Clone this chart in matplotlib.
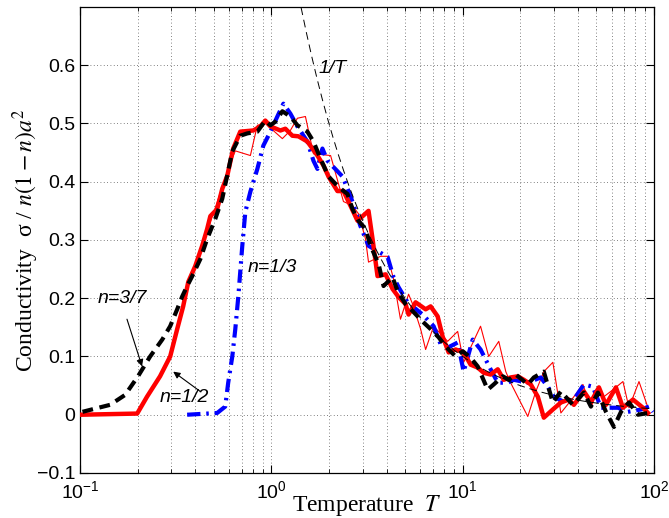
import numpy as np
import matplotlib.pyplot as plt
from matplotlib.ticker import LogLocator, NullFormatter

plt.rcParams['mathtext.fontset'] = 'custom'
plt.rcParams['mathtext.rm'] = 'Liberation Sans'
plt.rcParams['mathtext.it'] = 'Liberation Sans:italic'
plt.rcParams['font.family'] = ['Liberation Sans', 'DejaVu Sans']

# n = 1/2, thick red
T_half = [0.1, 0.199, 0.224, 0.262, 0.296, 0.322, 0.346, 0.368, 0.400, 0.435,
          0.462, 0.480, 0.521, 0.554, 0.588, 0.632, 0.688, 0.805, 0.876, 0.930,
          0.989, 1.115, 1.184, 1.288, 1.385, 1.543, 1.741, 1.872, 1.989, 2.215,
          2.382, 2.59, 2.82, 3.22, 3.379, 3.589, 3.953, 4.30, 4.624, 5.029,
          5.215, 5.674, 6.402, 6.80, 7.397, 7.859, 8.447, 9.192, 10.12, 11.0,
          11.98, 12.88, 14.0, 15.25, 16.39, 17.8, 19.41, 20.86, 22.7, 24.70,
          26.55, 29.60, 32.6, 35.89, 38.13, 43.01, 46.8, 51.52, 56.07, 63.24,
          68.82, 77.63, 87.59, 93.03]
s_half = [0, 0.002, 0.031, 0.066, 0.100, 0.147, 0.186, 0.228, 0.255, 0.290,
          0.319, 0.341, 0.353, 0.388, 0.410, 0.457, 0.486, 0.488, 0.495, 0.505,
          0.495, 0.488, 0.491, 0.479, 0.478, 0.469, 0.445, 0.428, 0.409, 0.384,
          0.384, 0.359, 0.333, 0.350, 0.302, 0.238, 0.241, 0.216, 0.202, 0.190,
          0.172, 0.193, 0.181, 0.186, 0.169, 0.134, 0.107, 0.112, 0.107, 0.086,
          0.081, 0.072, 0.069, 0.078, 0.060, 0.064, 0.066, 0.060, 0.052, 0.031,
          -0.005, 0.009, 0.021, 0.026, 0.017, 0.040, 0.022, 0.047, 0.017, 0.047,
          0.012, 0.026, 0.012, 0.003]

# n = 1/2, smaller system (thin red)
T_half2 = [0.1, 0.199, 0.224, 0.262, 0.296, 0.322, 0.346, 0.368, 0.400, 0.435,
           0.462, 0.497, 0.554, 0.595, 0.648, 0.777, 0.845, 0.930, 1.142, 1.257,
           1.368, 1.507, 1.660, 2.04, 2.382, 2.656, 2.854, 3.105, 3.220, 3.72,
           4.050, 4.352, 4.73, 5.215, 5.473, 6.03, 6.402, 7.050, 8.346, 9.415,
           10.12, 12.4, 13.68, 15.44, 16.80, 17.8, 21.89, 24.11, 26.55, 29.60,
           32.6, 38.13, 42.50, 46.8, 51.52, 54.73, 61.00, 68.82, 73.99, 83.46,
           93.03]
s_half2 = [0, 0.002, 0.029, 0.064, 0.098, 0.143, 0.188, 0.224, 0.253, 0.288,
           0.316, 0.345, 0.391, 0.422, 0.453, 0.445, 0.497, 0.500, 0.474, 0.488,
           0.509, 0.512, 0.448, 0.445, 0.366, 0.359, 0.345, 0.302, 0.262, 0.272,
           0.272, 0.233, 0.164, 0.207, 0.190, 0.147, 0.112, 0.152, 0.126, 0.143,
           0.090, 0.152, 0.100, 0.126, 0.074, 0.055, -0.003, 0.040, 0.074, 0.090,
           0.003, 0.031, 0.052, 0.012, 0.048, 0.031, 0.043, 0.057, 0.012, 0.057,
           0.012]

# n = 3/7, black dashed
T_37 = [0.103, 0.1436, 0.172, 0.201, 0.2325, 0.269, 0.296, 0.322, 0.342, 0.363,
        0.386, 0.425, 0.462, 0.509, 0.554, 0.625, 0.688, 0.749, 0.845, 0.930,
        0.989, 1.049, 1.142, 1.257, 1.368, 1.543, 1.660, 1.805, 1.989, 2.243,
        2.500, 2.656, 2.854, 3.105, 3.30, 3.633, 3.859, 4.300, 4.568, 5.029,
        5.473, 6.176, 6.80, 7.486, 8.147, 9.192, 10.0, 11.0, 11.98, 13.51,
        14.53, 16.20, 17.41, 18.95, 21.89, 23.54, 26.55, 29.60, 32.6, 37.66,
        43.01, 46.8, 50.91, 56.07, 61.73, 67.2, 73.99, 82.46, 93.03]
s_37 = [0.005, 0.017, 0.034, 0.066, 0.100, 0.129, 0.152, 0.181, 0.203, 0.221,
        0.238, 0.267, 0.302, 0.336, 0.371, 0.452, 0.479, 0.483, 0.486, 0.505,
        0.497, 0.503, 0.521, 0.512, 0.497, 0.486, 0.469, 0.440, 0.409, 0.391,
        0.379, 0.353, 0.333, 0.319, 0.290, 0.259, 0.221, 0.236, 0.212, 0.190,
        0.178, 0.160, 0.147, 0.133, 0.117, 0.100, 0.109, 0.098, 0.083, 0.043,
        0.052, 0.066, 0.060, 0.069, 0.052, 0.064, 0.074, 0.021, 0.040, 0.017,
        0.038, 0.014, 0.038, 0.005, -0.021, 0.005, 0.021, 0.0, 0.003]

# n = 1/3, blue dash-dot
T_13 = [0.363, 0.521, 0.574, 0.595, 0.625, 0.648, 0.672, 0.705, 0.731, 0.777,
        0.845, 0.908, 0.989, 1.075, 1.156, 1.257, 1.368, 1.543, 1.660, 1.741,
        1.849, 1.965, 2.353, 2.59, 2.92, 3.220, 3.589, 4.050, 4.352, 4.624,
        5.152, 6.176, 7.050, 7.67, 8.447, 9.415, 10.12, 11.28, 12.4, 14.0,
        15.25, 17.21, 18.49, 21.89, 25.6, 27.86, 29.95, 33.80, 38.13, 43.01,
        47.93, 52.8, 64.79, 73.10, 85.5, 94.15, 99.0]
s_13 = [0, 0.003, 0.014, 0.055, 0.100, 0.147, 0.203, 0.290, 0.348, 0.383,
        0.422, 0.462, 0.486, 0.512, 0.534, 0.517, 0.495, 0.469, 0.436, 0.422,
        0.457, 0.436, 0.409, 0.376, 0.324, 0.290, 0.281, 0.271, 0.236, 0.219,
        0.193, 0.172, 0.152, 0.121, 0.116, 0.124, 0.074, 0.129, 0.112, 0.078,
        0.055, 0.055, 0.060, 0.055, 0.064, 0.048, 0.031, 0.022, 0.026, 0.052,
        0.048, 0.012, 0.012, 0.005, 0.009, 0.014, 0.005]

# high-temperature law 1/T
T_ref = np.geomspace(1.43, 100, 200)
s_ref = 1.0 / T_ref

ytick_vals = [-0.1, 0, 0.1, 0.2, 0.3, 0.4, 0.5, 0.6]
ytick_text = ['\u22120.1', '0', '0.1', '0.2', '0.3', '0.4', '0.5', '0.6']
xtick_vals = [0.1, 1, 10, 100]
xtick_text = [r'$10^{-1}$', r'$10^{0}$', r'$10^{1}$', r'$10^{2}$']

fig = plt.figure(figsize=(6.69, 5.18), dpi=100)
ax = fig.add_axes([0.1196, 0.0869, 0.858, 0.8996])

ax.plot(T_half2, s_half2, color='red', lw=0.8, zorder=3)
ax.plot(T_13, s_13, color='blue', lw=3.0, dashes=(3.2, 1.4, 0.6, 1.4), zorder=4)
ax.plot(T_half, s_half, color='red', lw=3.2, zorder=5)
ax.plot(T_37, s_37, color='black', lw=3.0, dashes=(2.6, 1.6), zorder=6)
ax.plot(T_ref, s_ref, color='black', lw=0.7, dashes=(8, 5), zorder=7)

ax.set_xscale('log')
ax.set_xlim(0.1, 100)
ax.set_ylim(-0.1, 0.7)
ax.set_xticks(xtick_vals)
ax.set_xticklabels(xtick_text)
ax.xaxis.set_minor_locator(LogLocator(base=10, subs=np.arange(2, 10)))
ax.xaxis.set_minor_formatter(NullFormatter())
ax.set_yticks(ytick_vals)
ax.set_yticklabels(ytick_text)

ax.tick_params(which='both', direction='in', top=True, right=True, labelsize=14)
ax.tick_params(which='major', length=6, width=0.8)
ax.tick_params(which='minor', length=3, width=0.6)
ax.tick_params(axis='x', pad=5)

ax.grid(True, which='major', axis='both', color='0.35', lw=0.6, linestyle=(0, (1, 3)))
ax.grid(True, which='minor', axis='x', color='0.35', lw=0.6, linestyle=(0, (1, 3)))
for sp in ax.spines.values():
    sp.set_linewidth(0.9)

ax.set_ylabel('Conductivity  \u03c3 / $n(1\u2212n)a^2$', fontsize=17,
              family='Liberation Serif', math_fontfamily='stix')
ax.yaxis.set_label_coords(-0.068, 0.5)
ax.set_xlabel('Temperature  $T$', fontsize=17, family='Liberation Serif',
              math_fontfamily='stix')
ax.xaxis.set_label_coords(0.5, -0.043)

lab = dict(fontsize=14, style='italic', va='center', ha='left')
ax.text(1.76, 0.595, '1/T', **lab)
ax.text(0.749, 0.252, 'n=1/3', **lab)
ax.text(0.124, 0.2, 'n=3/7', **lab)
ax.text(0.262, 0.029, 'n=1/2', **lab)

arrow = dict(arrowstyle='-|>', color='black', lw=0.8, mutation_scale=10, shrinkA=0, shrinkB=0)
ax.annotate('', xy=(0.211, 0.083), xytext=(0.176, 0.164), arrowprops=arrow)
ax.annotate('', xy=(0.307, 0.074), xytext=(0.425, 0.040), arrowprops=arrow)

fig.savefig('out.png', dpi=100)
